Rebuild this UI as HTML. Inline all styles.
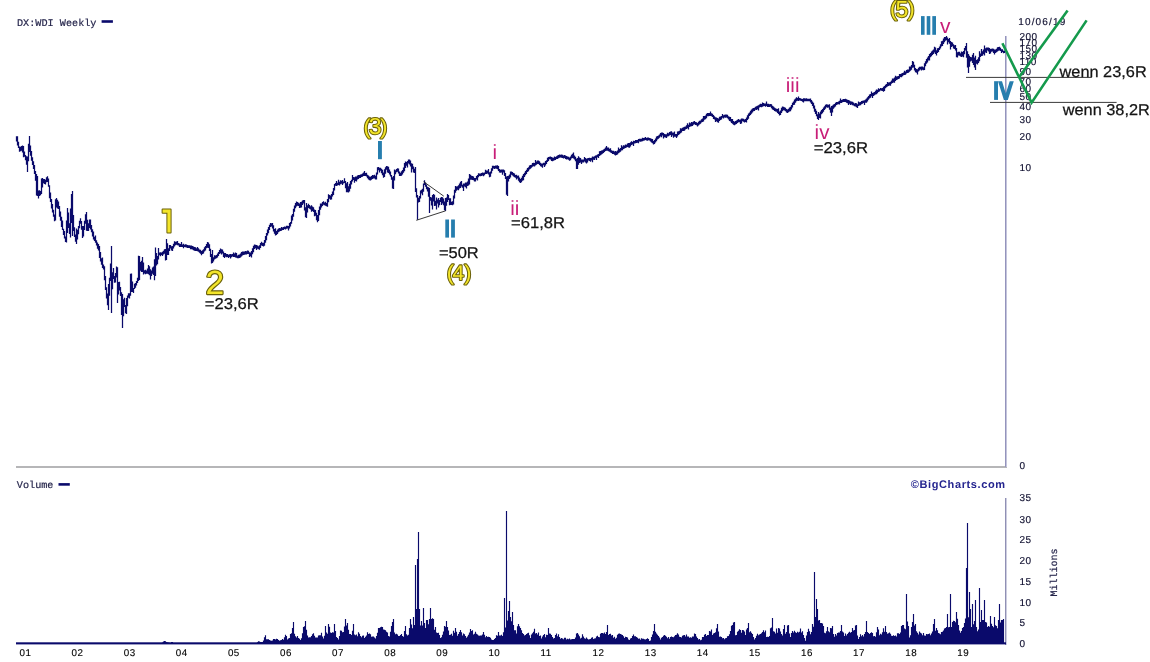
<!DOCTYPE html>
<html><head><meta charset="utf-8"><title>DX:WDI Weekly</title>
<style>
html,body{margin:0;padding:0;background:#fff;}
body{width:1150px;height:662px;overflow:hidden;font-family:"Liberation Sans",sans-serif;}
svg{display:block;}
text{font-family:"Liberation Sans",sans-serif;text-rendering:geometricPrecision;}
.mono{font-family:"Liberation Mono",monospace;font-size:10.2px;fill:#26264c;stroke:#26264c;stroke-width:0.2px;}
.ax{font-size:10px;fill:#101030;stroke:#101030;stroke-width:0.15px;letter-spacing:0.45px;}
.xl{font-size:9.8px;fill:#000;stroke:#000;stroke-width:0.12px;letter-spacing:0.5px;}
.note{font-size:15.7px;fill:#141414;stroke:#141414;stroke-width:0.25px;}
.yel{fill:#f3e52a;stroke:#6a6008;stroke-width:2.3px;paint-order:stroke fill;stroke-linejoin:round;}
.ys{stroke-width:2.1px;}
.pink{fill:#c81e78;}
.teal{fill:#267eae;}
</style></head>
<body>
<svg width="1150" height="662" viewBox="0 0 1150 662">
<defs><filter id="gs" x="0" y="0" width="1150" height="662" filterUnits="userSpaceOnUse"><feOffset dx="0" dy="0"/></filter></defs>
<rect width="1150" height="662" fill="#ffffff"/>
<g filter="url(#gs)">

<!-- frames -->
<g id="frames" shape-rendering="crispEdges">
<rect x="16" y="466" width="991" height="2" fill="#b6b6b8"/>
<rect x="1005" y="36" width="1" height="431" fill="#9494bc"/><rect x="1006" y="36" width="1" height="431" fill="#c4c4dc"/>
<rect x="1005" y="498" width="1" height="147" fill="#9090b4"/><rect x="1006" y="498" width="1" height="147" fill="#cdcde0"/>
</g>
<rect x="16" y="642.3" width="990" height="2.1" fill="#0a0a6b"/>

<!-- price bars -->
<path id="price" d="M16.5 136.2V141.6M17.5 136.3V145.6M18.5 141.8V148.0M19.5 146.4V151.7M20.5 146.8V151.2M21.5 146.0V150.7M22.5 145.6V152.4M23.5 145.9V157.2M24.5 151.5V156.7M25.5 155.0V160.3M26.5 156.2V164.8M27.5 156.4V172.0M28.5 143.8V161.3M29.5 135.9V152.0M30.5 145.6V155.8M31.5 151.0V160.8M32.5 157.2V165.0M33.5 161.3V169.0M34.5 165.0V173.9M35.5 171.0V180.8M36.5 174.1V195.4M37.5 176.0V196.1M38.5 190.6V198.4M39.5 190.3V195.9M40.5 191.0V195.3M41.5 178.4V194.0M42.5 177.9V187.5M43.5 179.1V183.2M44.5 179.0V184.1M45.5 179.8V184.5M46.5 177.3V182.3M47.5 176.3V181.9M48.5 178.4V186.7M49.5 185.2V198.3M50.5 192.5V202.1M51.5 199.0V208.4M52.5 204.1V212.4M53.5 209.7V216.8M54.5 214.4V221.3M55.5 199.3V220.5M56.5 198.1V207.4M57.5 199.7V208.4M58.5 201.6V209.1M59.5 206.1V216.8M60.5 211.6V220.8M61.5 216.7V227.0M62.5 220.6V230.1M63.5 228.7V235.0M64.5 231.1V238.5M65.5 236.4V242.1M66.5 220.4V242.5M67.5 208.0V233.0M68.5 212.5V228.0M69.5 223.2V234.1M70.5 208.4V237.4M71.5 194.1V223.1M72.5 190.9V236.0M73.5 215.0V231.1M74.5 227.3V237.1M75.5 234.4V241.8M76.5 228.4V244.0M77.5 229.7V239.6M78.5 225.9V234.3M79.5 220.7V228.2M80.5 218.2V223.7M81.5 221.0V229.8M82.5 225.9V238.0M83.5 226.0V236.6M84.5 220.8V229.9M85.5 214.2V223.7M86.5 212.0V230.8M87.5 219.8V230.9M88.5 223.3V230.9M89.5 219.5V228.0M90.5 219.5V229.6M91.5 224.9V232.3M92.5 229.3V236.5M93.5 231.6V239.6M94.5 236.8V241.0M95.5 235.4V242.8M96.5 240.2V245.6M97.5 242.5V248.7M98.5 243.9V250.4M99.5 246.1V257.9M100.5 251.9V261.5M101.5 258.3V264.8M102.5 257.6V267.9M103.5 264.5V269.6M104.5 266.2V280.3M105.5 276.1V290.1M106.5 287.3V298.4M107.5 293.6V305.3M108.5 284.0V309.9M109.5 277.7V295.7M110.5 263.4V280.9M111.5 246.0V313.0M112.5 272.2V289.3M113.5 267.9V279.0M114.5 275.9V282.8M115.5 273.1V282.6M116.5 266.5V277.4M117.5 267.2V303.0M118.5 281.9V294.6M119.5 281.8V290.5M120.5 287.1V296.0M121.5 292.2V315.1M122.5 294.0V328.0M123.5 299.2V316.3M124.5 297.8V307.1M125.5 305.1V313.3M126.5 298.0V314.0M127.5 295.5V306.2M128.5 293.3V297.8M129.5 293.3V298.6M130.5 273.7V295.7M131.5 273.6V292.0M132.5 281.4V292.0M133.5 288.1V293.0M134.5 283.8V288.9M135.5 282.9V287.8M136.5 281.0V285.4M137.5 277.7V282.9M138.5 255.8V281.1M139.5 256.0V280.0M140.5 262.1V270.7M141.5 260.8V271.9M142.5 257.0V272.0M143.5 262.4V274.4M144.5 270.2V273.4M145.5 269.7V274.3M146.5 270.6V273.7M147.5 268.4V273.7M148.5 264.9V274.2M149.5 266.2V275.2M150.5 269.2V279.6M151.5 270.6V276.1M152.5 267.6V273.7M153.5 266.5V275.1M154.5 259.2V280.3M155.5 247.4V276.0M156.5 253.0V265.4M157.5 256.1V264.3M158.5 248.1V259.6M159.5 252.4V255.3M160.5 252.3V256.3M161.5 252.6V255.1M162.5 251.8V255.9M163.5 250.8V254.5M164.5 249.3V253.7M165.5 249.1V260.4M166.5 239.0V260.0M167.5 243.2V255.1M168.5 248.2V254.9M169.5 245.1V250.9M170.5 244.9V248.6M171.5 246.2V250.6M172.5 246.0V251.0M173.5 243.7V248.6M174.5 241.2V246.6M175.5 241.7V245.2M176.5 241.4V244.7M177.5 241.1V245.3M178.5 242.9V245.6M179.5 243.6V246.9M180.5 244.1V247.1M181.5 242.1V247.1M182.5 244.5V246.9M183.5 243.7V248.3M184.5 244.7V247.1M185.5 244.3V247.3M186.5 244.6V247.5M187.5 245.1V248.0M188.5 245.3V247.9M189.5 245.3V248.0M190.5 245.6V249.2M191.5 245.5V249.2M192.5 245.9V249.5M193.5 246.6V250.3M194.5 247.0V250.7M195.5 247.3V251.0M196.5 248.3V250.9M197.5 246.9V251.2M198.5 248.2V251.7M199.5 249.4V252.7M200.5 249.8V253.7M201.5 251.1V255.2M202.5 250.2V253.9M203.5 249.2V253.5M204.5 247.2V251.6M205.5 246.0V250.6M206.5 244.1V248.2M207.5 241.9V247.8M208.5 242.4V248.1M209.5 244.2V251.0M210.5 248.8V257.1M211.5 254.0V263.6M212.5 250.0V262.9M213.5 257.2V261.5M214.5 255.3V259.4M215.5 255.4V258.7M216.5 254.9V258.2M217.5 253.6V257.6M218.5 252.0V256.0M219.5 250.1V254.0M220.5 248.5V253.2M221.5 249.2V254.6M222.5 249.6V253.5M223.5 251.6V256.9M224.5 252.9V258.0M225.5 252.9V256.7M226.5 254.1V257.3M227.5 254.0V257.1M228.5 254.7V258.1M229.5 254.2V257.0M230.5 254.1V258.6M231.5 254.2V257.3M232.5 254.0V256.6M233.5 252.6V256.9M234.5 253.6V256.9M235.5 252.4V257.5M236.5 253.1V257.7M237.5 255.5V258.2M238.5 254.7V258.2M239.5 254.5V258.0M240.5 253.5V257.6M241.5 252.1V256.5M242.5 251.6V255.4M243.5 251.4V254.9M244.5 251.5V254.7M245.5 251.1V254.5M246.5 251.2V254.4M247.5 250.6V254.0M248.5 250.7V254.1M249.5 252.2V257.0M250.5 252.6V256.2M251.5 251.0V257.6M252.5 248.2V254.3M253.5 245.7V252.2M254.5 244.4V249.1M255.5 244.8V248.2M256.5 244.9V249.9M257.5 245.4V248.7M258.5 246.2V249.2M259.5 245.2V249.8M260.5 243.1V247.9M261.5 241.8V245.5M262.5 242.8V246.0M263.5 242.7V246.4M264.5 239.9V245.8M265.5 235.9V242.8M266.5 232.9V240.3M267.5 229.4V235.4M268.5 227.1V233.2M269.5 224.8V229.9M270.5 222.9V227.0M271.5 223.2V226.5M272.5 223.1V228.4M273.5 225.3V231.6M274.5 229.1V233.7M275.5 228.3V235.6M276.5 230.9V235.1M277.5 229.4V233.9M278.5 228.6V232.3M279.5 228.0V231.5M280.5 228.2V231.0M281.5 227.1V230.8M282.5 227.5V230.1M283.5 227.0V229.9M284.5 226.6V229.1M285.5 226.7V229.4M286.5 225.8V228.7M287.5 225.7V228.5M288.5 225.9V230.6M289.5 223.1V228.5M290.5 221.9V226.5M291.5 215.6V223.7M292.5 214.0V220.4M293.5 208.8V216.8M294.5 205.4V211.8M295.5 202.9V208.2M296.5 201.5V206.5M297.5 202.0V205.7M298.5 202.8V206.0M299.5 203.5V207.9M300.5 202.1V207.7M301.5 201.8V207.6M302.5 200.6V205.1M303.5 199.9V203.6M304.5 200.0V210.4M305.5 207.3V217.2M306.5 203.0V218.0M307.5 205.2V212.6M308.5 203.7V207.9M309.5 205.0V208.7M310.5 206.2V209.4M311.5 205.3V211.8M312.5 206.6V210.9M313.5 207.3V212.1M314.5 209.6V216.2M315.5 210.1V215.8M316.5 212.8V220.2M317.5 215.0V222.2M318.5 210.0V221.1M319.5 206.6V215.3M320.5 203.6V209.7M321.5 203.4V207.5M322.5 201.9V206.0M323.5 201.2V204.7M324.5 202.5V205.3M325.5 201.8V205.8M326.5 203.1V206.3M327.5 199.1V206.8M328.5 194.2V202.2M329.5 195.1V198.8M330.5 195.4V199.8M331.5 194.1V199.4M332.5 191.6V196.4M333.5 187.9V195.1M334.5 184.0V190.6M335.5 183.0V185.7M336.5 181.0V186.0M337.5 182.8V185.6M338.5 179.7V185.1M339.5 181.7V185.4M340.5 180.3V184.2M341.5 180.8V183.8M342.5 179.9V185.0M343.5 181.4V183.6M344.5 178.2V183.1M345.5 181.0V188.2M346.5 183.2V192.2M347.5 182.0V192.2M348.5 186.2V192.4M349.5 183.8V191.6M350.5 181.1V188.7M351.5 179.7V184.5M352.5 174.9V181.6M353.5 177.0V179.9M354.5 177.2V182.8M355.5 176.6V180.9M356.5 176.4V181.5M357.5 175.6V179.5M358.5 175.1V178.9M359.5 174.9V178.1M360.5 174.6V178.1M361.5 174.3V177.0M362.5 173.5V176.7M363.5 172.6V175.9M364.5 171.1V176.0M365.5 173.0V175.9M366.5 172.8V176.5M367.5 174.7V178.2M368.5 175.4V179.4M369.5 176.5V180.2M370.5 176.8V180.5M371.5 175.9V179.8M372.5 174.9V179.0M373.5 175.3V178.4M374.5 174.8V178.4M375.5 175.7V179.5M376.5 172.6V179.6M377.5 167.2V174.6M378.5 166.9V170.3M379.5 167.7V172.6M380.5 167.7V170.8M381.5 168.7V173.2M382.5 169.8V175.2M383.5 172.4V177.7M384.5 169.2V176.9M385.5 167.2V173.8M386.5 165.9V169.8M387.5 166.3V172.4M388.5 166.7V173.0M389.5 169.6V174.4M390.5 171.4V176.5M391.5 175.1V179.8M392.5 177.2V188.4M393.5 176.0V189.0M394.5 169.4V180.6M395.5 170.3V174.2M396.5 169.1V172.3M397.5 168.3V171.8M398.5 168.5V173.6M399.5 171.4V176.1M400.5 172.8V176.1M401.5 171.2V175.7M402.5 170.1V174.5M403.5 167.5V172.8M404.5 162.9V171.3M405.5 161.4V168.0M406.5 162.1V165.7M407.5 161.0V167.5M408.5 159.4V163.5M409.5 159.6V164.4M410.5 160.4V166.4M411.5 163.2V172.6M412.5 163.7V169.2M413.5 166.4V172.6M414.5 168.7V173.0M415.5 166.9V192.0M416.5 188.3V197.6M417.5 194.9V219.8M418.5 197.7V202.6M419.5 195.9V202.1M420.5 190.4V198.4M421.5 189.8V193.6M422.5 188.8V195.3M423.5 183.4V191.8M424.5 180.2V185.1M425.5 182.5V186.8M426.5 184.4V189.2M427.5 186.7V191.6M428.5 187.2V196.8M429.5 188.1V213.0M430.5 196.9V200.7M431.5 197.6V205.4M432.5 195.0V209.5M433.5 194.1V201.5M434.5 194.7V206.0M435.5 200.8V205.7M436.5 197.6V209.5M437.5 199.5V203.5M438.5 198.0V207.5M439.5 200.0V205.3M440.5 197.7V202.1M441.5 197.0V205.1M442.5 197.3V203.6M443.5 198.5V205.3M444.5 201.5V210.3M445.5 198.0V211.0M446.5 197.5V205.7M447.5 193.9V202.1M448.5 195.1V200.0M449.5 198.2V205.3M450.5 198.2V204.9M451.5 201.8V205.1M452.5 201.3V205.3M453.5 195.6V204.6M454.5 189.7V198.4M455.5 185.9V192.8M456.5 186.5V190.7M457.5 186.2V189.8M458.5 185.3V190.2M459.5 183.4V188.6M460.5 181.7V188.0M461.5 181.1V186.4M462.5 184.7V187.8M463.5 183.5V190.9M464.5 183.4V186.4M465.5 182.4V187.2M466.5 182.5V188.5M467.5 181.4V186.1M468.5 178.6V185.5M469.5 174.1V184.5M470.5 174.8V179.8M471.5 175.7V179.7M472.5 176.1V180.1M473.5 176.6V180.3M474.5 178.0V181.4M475.5 178.1V181.6M476.5 176.0V179.5M477.5 174.9V180.5M478.5 173.2V177.2M479.5 173.4V176.1M480.5 173.6V176.3M481.5 172.9V176.1M482.5 172.4V175.6M483.5 172.7V176.3M484.5 172.4V175.2M485.5 169.8V174.1M486.5 170.6V173.9M487.5 170.4V173.5M488.5 168.9V174.4M489.5 172.2V177.3M490.5 171.6V176.7M491.5 168.3V173.6M492.5 165.8V170.7M493.5 165.7V168.6M494.5 165.9V169.0M495.5 165.4V168.5M496.5 165.6V168.7M497.5 165.3V169.2M498.5 165.9V170.9M499.5 169.0V172.5M500.5 169.8V172.8M501.5 169.4V172.4M502.5 169.6V174.8M503.5 169.4V172.4M504.5 170.3V176.0M505.5 172.9V179.0M506.5 176.6V194.7M507.5 176.0V196.0M508.5 175.7V181.6M509.5 174.4V179.1M510.5 171.6V177.6M511.5 171.4V174.7M512.5 171.9V175.4M513.5 173.0V176.5M514.5 173.4V177.3M515.5 175.1V177.7M516.5 174.7V179.4M517.5 175.7V178.4M518.5 175.6V180.8M519.5 177.5V182.2M520.5 179.1V183.1M521.5 177.8V182.2M522.5 175.8V180.8M523.5 174.1V180.2M524.5 172.8V177.0M525.5 171.1V175.2M526.5 169.7V174.0M527.5 167.9V172.0M528.5 167.2V171.2M529.5 165.6V169.5M530.5 165.0V168.7M531.5 164.7V167.8M532.5 163.0V166.8M533.5 162.7V166.3M534.5 162.9V166.4M535.5 160.0V165.6M536.5 161.6V164.8M537.5 160.6V164.0M538.5 160.5V164.0M539.5 161.2V165.0M540.5 162.8V166.2M541.5 163.6V166.8M542.5 163.4V167.8M543.5 162.8V165.2M544.5 162.8V167.0M545.5 160.9V165.4M546.5 160.2V164.0M547.5 157.8V162.1M548.5 157.0V160.9M549.5 156.8V159.2M550.5 156.6V159.6M551.5 157.0V161.0M552.5 157.4V161.2M553.5 157.8V160.8M554.5 156.6V160.3M555.5 156.9V160.0M556.5 156.2V159.1M557.5 155.4V158.9M558.5 155.1V158.3M559.5 154.4V157.8M560.5 154.8V157.5M561.5 154.5V157.7M562.5 154.8V158.1M563.5 155.4V158.4M564.5 155.1V157.9M565.5 155.4V158.9M566.5 156.1V159.4M567.5 156.5V159.3M568.5 156.7V159.7M569.5 157.4V160.8M570.5 156.6V160.2M571.5 154.7V158.6M572.5 153.8V158.0M573.5 152.4V158.6M574.5 155.4V159.6M575.5 156.7V161.3M576.5 158.8V169.0M577.5 158.0V169.0M578.5 156.3V164.8M579.5 157.5V163.0M580.5 158.1V162.6M581.5 159.4V163.9M582.5 159.4V162.6M583.5 159.4V162.6M584.5 157.0V161.6M585.5 158.0V162.4M586.5 158.7V163.4M587.5 158.3V162.6M588.5 158.1V160.6M589.5 157.7V160.9M590.5 158.0V161.7M591.5 157.7V160.6M592.5 156.6V162.2M593.5 156.7V159.8M594.5 156.2V159.9M595.5 155.4V158.2M596.5 155.3V160.1M597.5 154.4V157.2M598.5 154.0V157.9M599.5 151.3V155.9M600.5 151.1V155.2M601.5 150.6V154.4M602.5 150.3V153.8M603.5 149.6V152.9M604.5 148.7V152.0M605.5 147.6V151.0M606.5 145.9V150.7M607.5 147.6V150.8M608.5 147.4V151.3M609.5 148.7V151.8M610.5 148.3V152.6M611.5 150.3V153.1M612.5 150.7V153.9M613.5 150.8V153.9M614.5 151.6V154.7M615.5 151.1V155.5M616.5 151.5V155.0M617.5 150.4V154.5M618.5 147.5V153.2M619.5 149.0V152.6M620.5 148.1V151.8M621.5 145.3V150.4M622.5 146.5V150.3M623.5 145.3V149.1M624.5 145.6V148.5M625.5 144.5V148.0M626.5 144.8V147.5M627.5 143.5V146.9M628.5 143.1V147.4M629.5 143.1V147.7M630.5 142.3V146.4M631.5 141.2V144.9M632.5 141.9V144.6M633.5 140.8V146.1M634.5 140.9V143.4M635.5 140.1V143.3M636.5 139.9V143.1M637.5 140.1V142.7M638.5 139.0V143.2M639.5 138.7V141.6M640.5 138.7V141.7M641.5 138.7V141.6M642.5 137.7V141.2M643.5 138.0V140.7M644.5 137.8V140.6M645.5 137.1V140.1M646.5 137.9V140.5M647.5 137.5V140.7M648.5 137.6V140.3M649.5 138.1V140.4M650.5 138.2V141.4M651.5 138.7V142.4M652.5 139.1V143.3M653.5 141.1V144.4M654.5 139.9V143.9M655.5 138.6V142.6M656.5 136.5V141.3M657.5 136.1V139.5M658.5 135.4V138.7M659.5 134.6V137.8M660.5 133.0V136.5M661.5 132.6V137.2M662.5 132.5V135.5M663.5 133.0V138.4M664.5 133.9V137.2M665.5 134.3V137.6M666.5 134.3V137.9M667.5 132.8V136.6M668.5 133.2V136.3M669.5 132.0V135.6M670.5 131.6V135.0M671.5 131.2V136.9M672.5 132.6V135.5M673.5 132.4V137.8M674.5 131.6V136.8M675.5 133.9V136.7M676.5 134.0V137.9M677.5 131.6V136.6M678.5 131.3V135.1M679.5 130.8V134.2M680.5 128.3V133.3M681.5 128.5V132.6M682.5 127.7V130.9M683.5 127.3V131.1M684.5 126.8V130.7M685.5 126.6V129.5M686.5 125.3V128.9M687.5 123.2V128.3M688.5 124.8V129.4M689.5 122.6V127.0M690.5 123.3V126.5M691.5 122.0V126.3M692.5 122.2V125.9M693.5 121.6V124.7M694.5 121.1V124.3M695.5 122.0V124.9M696.5 122.3V125.2M697.5 122.9V126.6M698.5 121.7V125.5M699.5 120.7V124.4M700.5 120.4V123.7M701.5 119.3V122.5M702.5 118.4V122.1M703.5 116.1V121.6M704.5 116.0V119.7M705.5 115.4V119.2M706.5 113.8V118.2M707.5 113.0V116.2M708.5 113.0V116.2M709.5 112.9V115.9M710.5 111.6V116.0M711.5 113.2V116.3M712.5 113.8V117.1M713.5 115.1V119.1M714.5 116.3V119.6M715.5 117.2V121.9M716.5 117.6V121.2M717.5 118.0V122.3M718.5 118.5V122.7M719.5 116.8V120.9M720.5 116.4V119.9M721.5 115.9V119.4M722.5 114.1V117.8M723.5 115.3V118.6M724.5 114.8V117.6M725.5 114.5V117.7M726.5 114.6V117.6M727.5 114.8V118.2M728.5 116.3V119.6M729.5 116.8V120.9M730.5 117.1V121.4M731.5 118.9V123.0M732.5 119.1V123.8M733.5 121.0V124.8M734.5 121.8V125.2M735.5 121.0V124.4M736.5 120.5V123.9M737.5 119.7V123.0M738.5 118.9V122.3M739.5 119.7V122.3M740.5 119.5V123.9M741.5 118.4V123.4M742.5 118.6V121.2M743.5 118.7V121.7M744.5 119.5V122.5M745.5 118.9V121.9M746.5 117.6V122.5M747.5 115.3V120.0M748.5 113.5V118.7M749.5 112.6V116.1M750.5 110.7V115.0M751.5 109.5V113.8M752.5 108.5V112.6M753.5 108.0V111.3M754.5 107.8V111.1M755.5 106.7V109.7M756.5 106.3V110.1M757.5 105.7V109.3M758.5 105.3V110.6M759.5 104.6V107.5M760.5 103.7V106.9M761.5 103.9V107.2M762.5 102.5V106.8M763.5 103.0V106.2M764.5 103.6V106.0M765.5 103.6V106.8M766.5 101.5V106.1M767.5 103.8V107.0M768.5 103.7V107.1M769.5 104.2V107.0M770.5 104.1V106.7M771.5 104.3V108.2M772.5 105.8V109.5M773.5 106.6V110.0M774.5 107.6V111.1M775.5 108.2V111.6M776.5 108.7V111.8M777.5 109.0V112.9M778.5 108.3V114.0M779.5 111.4V115.4M780.5 110.6V115.0M781.5 107.7V113.0M782.5 106.5V111.2M783.5 106.8V110.2M784.5 107.2V110.6M785.5 107.8V111.2M786.5 109.1V112.6M787.5 109.5V113.0M788.5 108.8V112.3M789.5 107.4V111.5M790.5 106.8V111.3M791.5 104.9V109.5M792.5 102.7V107.6M793.5 101.5V105.1M794.5 99.6V104.7M795.5 98.6V102.7M796.5 97.3V101.2M797.5 97.9V100.8M798.5 96.5V101.1M799.5 98.0V100.5M800.5 98.2V100.7M801.5 98.8V101.1M802.5 99.0V101.7M803.5 98.2V102.5M804.5 98.2V101.3M805.5 98.6V101.2M806.5 98.3V101.3M807.5 98.7V101.2M808.5 98.7V101.2M809.5 98.7V101.2M810.5 98.6V102.6M811.5 100.0V103.9M812.5 101.6V105.9M813.5 102.7V108.6M814.5 105.6V111.8M815.5 108.8V114.0M816.5 110.8V116.2M817.5 114.2V118.9M818.5 112.0V120.0M819.5 113.4V118.1M820.5 111.6V118.4M821.5 109.9V114.3M822.5 109.0V113.3M823.5 107.4V111.7M824.5 106.2V110.0M825.5 104.7V108.8M826.5 104.2V107.2M827.5 104.6V107.8M828.5 104.7V107.4M829.5 104.3V109.8M830.5 107.6V112.8M831.5 106.0V116.0M832.5 105.6V112.6M833.5 104.5V108.7M834.5 104.1V107.4M835.5 102.7V106.6M836.5 102.1V105.1M837.5 101.9V104.6M838.5 101.5V104.3M839.5 100.8V104.4M840.5 98.4V102.9M841.5 100.0V103.0M842.5 99.6V102.3M843.5 99.1V102.0M844.5 98.9V101.9M845.5 98.8V101.9M846.5 99.2V102.7M847.5 99.7V103.3M848.5 99.9V105.1M849.5 100.5V103.7M850.5 101.2V104.9M851.5 101.4V104.5M852.5 101.7V105.3M853.5 102.5V105.5M854.5 103.6V106.3M855.5 103.1V106.6M856.5 103.3V107.2M857.5 104.3V107.9M858.5 101.4V106.0M859.5 102.2V105.4M860.5 101.9V105.2M861.5 101.0V104.2M862.5 100.8V103.7M863.5 100.5V103.1M864.5 100.2V105.0M865.5 99.6V102.7M866.5 98.6V102.8M867.5 97.2V101.4M868.5 95.9V99.7M869.5 94.6V98.6M870.5 94.1V97.8M871.5 91.5V96.2M872.5 93.1V98.0M873.5 92.5V96.0M874.5 91.9V95.2M875.5 90.8V94.6M876.5 89.4V94.2M877.5 89.8V93.3M878.5 88.3V92.1M879.5 89.1V91.6M880.5 87.9V90.5M881.5 88.2V90.8M882.5 88.1V91.0M883.5 86.7V91.8M884.5 85.9V91.1M885.5 84.8V88.3M886.5 84.0V87.2M887.5 82.0V86.4M888.5 82.6V86.1M889.5 82.2V85.4M890.5 81.8V85.8M891.5 80.5V83.7M892.5 78.6V82.9M893.5 78.4V82.6M894.5 77.6V82.8M895.5 75.8V81.0M896.5 76.4V80.1M897.5 76.3V79.4M898.5 75.9V79.0M899.5 74.0V78.5M900.5 73.9V77.0M901.5 73.4V77.2M902.5 73.0V76.2M903.5 72.5V75.3M904.5 70.8V74.9M905.5 71.6V74.7M906.5 70.1V73.5M907.5 69.5V72.9M908.5 69.5V72.8M909.5 66.5V71.8M910.5 66.4V70.8M911.5 64.9V69.7M912.5 61.1V67.7M913.5 61.8V67.4M914.5 64.8V70.6M915.5 67.9V72.2M916.5 68.9V72.7M917.5 69.2V74.4M918.5 67.8V71.5M919.5 66.7V70.4M920.5 66.7V69.6M921.5 66.4V70.6M922.5 66.5V69.8M923.5 67.3V70.3M924.5 63.3V70.0M925.5 61.3V66.2M926.5 59.1V63.7M927.5 57.5V62.5M928.5 56.0V60.4M929.5 54.1V60.6M930.5 52.9V57.3M931.5 51.6V56.2M932.5 50.4V55.1M933.5 49.5V54.0M934.5 46.7V52.5M935.5 47.4V54.0M936.5 50.3V55.4M937.5 48.3V52.9M938.5 47.9V52.0M939.5 46.4V50.0M940.5 44.3V48.4M941.5 41.3V46.6M942.5 40.7V46.1M943.5 38.5V43.9M944.5 37.1V42.2M945.5 37.0V40.7M946.5 36.1V40.2M947.5 37.4V44.5M948.5 39.1V42.2M949.5 37.9V43.7M950.5 41.0V49.5M951.5 41.9V46.9M952.5 42.5V46.3M953.5 44.2V48.4M954.5 45.3V49.0M955.5 44.9V50.6M956.5 47.9V57.2M957.5 52.3V57.5M958.5 51.7V55.4M959.5 51.7V55.7M960.5 53.2V56.4M961.5 51.5V56.9M962.5 52.1V56.6M963.5 51.1V57.3M964.5 47.9V54.3M965.5 46.0V50.6M966.5 43.1V57.7M967.5 51.3V67.6M968.5 54.0V73.0M969.5 55.8V66.7M970.5 56.9V61.4M971.5 57.3V60.7M972.5 54.8V63.0M973.5 53.0V64.9M974.5 57.6V67.6M975.5 55.8V69.9M976.5 59.9V63.7M977.5 59.3V64.5M978.5 57.3V63.1M979.5 51.3V61.2M980.5 53.5V57.1M981.5 49.1V56.0M982.5 51.2V55.7M983.5 49.5V54.2M984.5 45.4V55.4M985.5 48.2V52.4M986.5 47.5V53.1M987.5 47.5V50.6M988.5 47.5V51.5M989.5 48.0V53.9M990.5 49.0V53.5M991.5 48.7V51.8M992.5 48.6V51.5M993.5 48.8V52.9M994.5 49.5V54.4M995.5 49.4V53.0M996.5 48.7V52.3M997.5 47.2V51.4M998.5 46.9V50.7M999.5 46.8V50.5M1000.5 47.7V50.9M1001.5 49.2V52.9M1002.5 49.3V52.1M1003.5 50.7V53.2M1004.5 50.6V53.1" stroke="#0a0a6b" stroke-width="1.25" fill="none"/>
<!-- volume bars -->
<path id="vol" d="M162.5 643.0V642.5M163.5 643.0V641.5M164.5 643.0V640.9M165.5 643.0V641.2M166.5 643.0V642.1M167.5 643.0V642.3M168.5 643.0V642.5M169.5 643.0V642.7M171.5 643.0V642.0M172.5 643.0V642.0M257.5 643.0V642.2M258.5 643.0V641.2M259.5 643.0V641.4M260.5 643.0V642.0M261.5 643.0V642.0M262.5 643.0V642.0M263.5 643.0V640.4M264.5 643.0V637.3M265.5 643.0V635.2M266.5 643.0V639.3M267.5 643.0V639.2M268.5 643.0V639.2M269.5 643.0V640.1M270.5 643.0V640.4M271.5 643.0V640.7M272.5 643.0V640.6M273.5 643.0V639.1M274.5 643.0V638.9M275.5 643.0V639.6M276.5 643.0V638.8M277.5 643.0V639.0M278.5 643.0V639.9M279.5 643.0V640.7M280.5 643.0V640.3M281.5 643.0V640.1M282.5 643.0V639.0M283.5 643.0V639.7M284.5 643.0V637.3M285.5 643.0V634.7M286.5 643.0V635.9M287.5 643.0V639.6M288.5 643.0V638.6M289.5 643.0V638.0M290.5 643.0V633.9M291.5 643.0V633.2M292.5 643.0V628.0M293.5 643.0V622.0M294.5 643.0V633.7M295.5 643.0V636.3M296.5 643.0V637.6M297.5 643.0V635.9M298.5 643.0V638.0M299.5 643.0V638.7M300.5 643.0V640.1M301.5 643.0V638.2M302.5 643.0V633.2M303.5 643.0V627.0M304.5 643.0V626.2M305.5 643.0V621.0M306.5 643.0V629.7M307.5 643.0V635.5M308.5 643.0V637.6M309.5 643.0V637.2M310.5 643.0V637.3M311.5 643.0V636.0M312.5 643.0V634.2M313.5 643.0V633.2M314.5 643.0V635.7M315.5 643.0V637.6M316.5 643.0V637.6M317.5 643.0V637.5M318.5 643.0V635.5M319.5 643.0V635.3M320.5 643.0V635.3M321.5 643.0V632.7M322.5 643.0V636.6M323.5 643.0V638.4M324.5 643.0V635.8M325.5 643.0V626.0M326.5 643.0V632.5M327.5 643.0V633.7M328.5 643.0V624.0M329.5 643.0V626.8M330.5 643.0V632.5M331.5 643.0V633.0M332.5 643.0V632.3M333.5 643.0V632.6M334.5 643.0V624.0M335.5 643.0V631.1M336.5 643.0V636.9M337.5 643.0V637.9M338.5 643.0V639.5M339.5 643.0V636.1M340.5 643.0V630.6M341.5 643.0V630.7M342.5 643.0V632.2M343.5 643.0V631.9M344.5 643.0V626.4M345.5 643.0V619.0M346.5 643.0V625.6M347.5 643.0V623.0M348.5 643.0V629.7M349.5 643.0V634.1M350.5 643.0V634.1M351.5 643.0V635.0M352.5 643.0V630.7M353.5 643.0V624.0M354.5 643.0V634.6M355.5 643.0V635.3M356.5 643.0V634.5M357.5 643.0V636.2M358.5 643.0V632.3M359.5 643.0V633.7M360.5 643.0V636.0M361.5 643.0V637.3M362.5 643.0V635.8M363.5 643.0V635.6M364.5 643.0V638.1M365.5 643.0V636.8M366.5 643.0V635.4M367.5 643.0V632.3M368.5 643.0V633.9M369.5 643.0V633.6M370.5 643.0V634.3M371.5 643.0V636.8M372.5 643.0V636.5M373.5 643.0V636.5M374.5 643.0V637.6M375.5 643.0V638.5M376.5 643.0V636.0M377.5 643.0V632.8M378.5 643.0V628.0M379.5 643.0V628.1M380.5 643.0V627.3M381.5 643.0V626.7M382.5 643.0V627.0M383.5 643.0V629.5M384.5 643.0V629.8M385.5 643.0V630.2M386.5 643.0V631.7M387.5 643.0V632.5M388.5 643.0V636.1M389.5 643.0V636.5M390.5 643.0V631.7M391.5 643.0V626.0M392.5 643.0V622.1M393.5 643.0V619.0M394.5 643.0V632.5M395.5 643.0V634.2M396.5 643.0V633.7M397.5 643.0V634.6M398.5 643.0V636.1M399.5 643.0V636.1M400.5 643.0V635.0M401.5 643.0V634.0M402.5 643.0V635.9M403.5 643.0V636.8M404.5 643.0V631.1M405.5 643.0V626.0M406.5 643.0V634.2M407.5 643.0V635.5M408.5 643.0V634.7M409.5 643.0V628.1M410.5 643.0V619.0M411.5 643.0V624.5M412.5 643.0V628.3M413.5 643.0V617.0M414.5 643.0V625.0M415.5 643.0V565.0M416.5 643.0V609.0M417.5 643.0V559.0M418.5 643.0V532.0M419.5 643.0V609.0M420.5 643.0V625.4M421.5 643.0V621.0M422.5 643.0V625.5M423.5 643.0V608.0M424.5 643.0V623.0M425.5 643.0V628.0M426.5 643.0V620.1M427.5 643.0V620.0M428.5 643.0V624.3M429.5 643.0V619.1M430.5 643.0V608.0M431.5 643.0V619.0M432.5 643.0V618.2M433.5 643.0V619.0M434.5 643.0V629.8M435.5 643.0V627.0M436.5 643.0V632.5M437.5 643.0V633.1M438.5 643.0V632.8M439.5 643.0V634.9M440.5 643.0V638.0M441.5 643.0V637.2M442.5 643.0V634.8M443.5 643.0V631.6M444.5 643.0V626.1M445.5 643.0V626.7M446.5 643.0V621.0M447.5 643.0V627.1M448.5 643.0V630.5M449.5 643.0V634.9M450.5 643.0V634.7M451.5 643.0V633.7M452.5 643.0V635.7M453.5 643.0V630.7M454.5 643.0V632.7M455.5 643.0V628.0M456.5 643.0V631.7M457.5 643.0V635.7M458.5 643.0V633.9M459.5 643.0V632.1M460.5 643.0V630.0M461.5 643.0V632.2M462.5 643.0V635.4M463.5 643.0V633.6M464.5 643.0V634.2M465.5 643.0V635.9M466.5 643.0V637.8M467.5 643.0V636.4M468.5 643.0V634.8M469.5 643.0V632.5M470.5 643.0V628.9M471.5 643.0V631.1M472.5 643.0V630.3M473.5 643.0V634.4M474.5 643.0V633.8M475.5 643.0V631.8M476.5 643.0V633.8M477.5 643.0V634.5M478.5 643.0V635.5M479.5 643.0V635.7M480.5 643.0V635.6M481.5 643.0V635.6M482.5 643.0V634.4M483.5 643.0V631.9M484.5 643.0V634.7M485.5 643.0V637.3M486.5 643.0V636.1M487.5 643.0V637.1M488.5 643.0V636.7M489.5 643.0V637.0M490.5 643.0V637.8M491.5 643.0V639.4M492.5 643.0V640.0M493.5 643.0V639.9M494.5 643.0V639.1M495.5 643.0V638.1M496.5 643.0V635.3M497.5 643.0V635.8M498.5 643.0V632.0M499.5 643.0V635.6M500.5 643.0V635.6M501.5 643.0V634.7M502.5 643.0V636.1M503.5 643.0V632.3M504.5 643.0V598.0M505.5 643.0V627.6M506.5 643.0V511.0M507.5 643.0V620.6M508.5 643.0V611.0M509.5 643.0V601.0M510.5 643.0V617.0M511.5 643.0V621.2M512.5 643.0V612.0M513.5 643.0V625.0M514.5 643.0V630.3M515.5 643.0V630.2M516.5 643.0V633.4M517.5 643.0V626.3M518.5 643.0V624.0M519.5 643.0V626.2M520.5 643.0V628.0M521.5 643.0V630.2M522.5 643.0V633.0M523.5 643.0V634.0M524.5 643.0V635.5M525.5 643.0V635.1M526.5 643.0V634.0M527.5 643.0V633.3M528.5 643.0V632.8M529.5 643.0V635.3M530.5 643.0V638.1M531.5 643.0V634.4M532.5 643.0V633.3M533.5 643.0V631.8M534.5 643.0V628.7M535.5 643.0V633.6M536.5 643.0V633.1M537.5 643.0V634.6M538.5 643.0V632.6M539.5 643.0V635.9M540.5 643.0V635.5M541.5 643.0V638.4M542.5 643.0V636.6M543.5 643.0V635.1M544.5 643.0V633.9M545.5 643.0V637.2M546.5 643.0V634.7M547.5 643.0V635.1M548.5 643.0V628.0M549.5 643.0V633.6M550.5 643.0V633.8M551.5 643.0V635.0M552.5 643.0V637.0M553.5 643.0V638.4M554.5 643.0V638.0M555.5 643.0V634.9M556.5 643.0V633.6M557.5 643.0V636.2M558.5 643.0V634.3M559.5 643.0V636.9M560.5 643.0V638.8M561.5 643.0V637.9M562.5 643.0V638.5M563.5 643.0V639.2M564.5 643.0V637.7M565.5 643.0V637.7M566.5 643.0V639.4M567.5 643.0V638.8M568.5 643.0V639.2M569.5 643.0V638.5M570.5 643.0V639.6M571.5 643.0V639.2M572.5 643.0V639.1M573.5 643.0V639.0M574.5 643.0V639.0M575.5 643.0V637.4M576.5 643.0V633.6M577.5 643.0V632.9M578.5 643.0V634.6M579.5 643.0V636.2M580.5 643.0V638.6M581.5 643.0V637.7M582.5 643.0V634.3M583.5 643.0V636.4M584.5 643.0V638.2M585.5 643.0V638.8M586.5 643.0V637.4M587.5 643.0V638.8M588.5 643.0V639.5M589.5 643.0V639.3M590.5 643.0V639.0M591.5 643.0V637.7M592.5 643.0V637.3M593.5 643.0V639.0M594.5 643.0V638.4M595.5 643.0V638.3M596.5 643.0V636.6M597.5 643.0V635.7M598.5 643.0V637.1M599.5 643.0V637.2M600.5 643.0V633.7M601.5 643.0V632.9M602.5 643.0V633.1M603.5 643.0V633.5M604.5 643.0V632.6M605.5 643.0V634.1M606.5 643.0V631.9M607.5 643.0V625.0M608.5 643.0V634.9M609.5 643.0V634.1M610.5 643.0V633.8M611.5 643.0V635.4M612.5 643.0V634.9M613.5 643.0V637.7M614.5 643.0V636.7M615.5 643.0V638.7M616.5 643.0V637.8M617.5 643.0V634.7M618.5 643.0V633.7M619.5 643.0V633.4M620.5 643.0V634.0M621.5 643.0V634.4M622.5 643.0V634.9M623.5 643.0V636.2M624.5 643.0V638.1M625.5 643.0V636.7M626.5 643.0V637.0M627.5 643.0V637.5M628.5 643.0V639.6M629.5 643.0V639.9M630.5 643.0V638.5M631.5 643.0V638.0M632.5 643.0V636.0M633.5 643.0V634.6M634.5 643.0V636.2M635.5 643.0V636.2M636.5 643.0V637.0M637.5 643.0V637.7M638.5 643.0V638.8M639.5 643.0V638.4M640.5 643.0V639.7M641.5 643.0V638.2M642.5 643.0V638.7M643.5 643.0V638.8M644.5 643.0V639.3M645.5 643.0V639.6M646.5 643.0V638.9M647.5 643.0V638.2M648.5 643.0V639.0M649.5 643.0V640.9M650.5 643.0V640.4M651.5 643.0V636.9M652.5 643.0V634.6M653.5 643.0V631.1M654.5 643.0V624.0M655.5 643.0V631.7M656.5 643.0V633.6M657.5 643.0V634.8M658.5 643.0V635.9M659.5 643.0V637.4M660.5 643.0V639.6M661.5 643.0V637.7M662.5 643.0V637.1M663.5 643.0V635.7M664.5 643.0V634.9M665.5 643.0V635.8M666.5 643.0V636.7M667.5 643.0V638.3M668.5 643.0V637.1M669.5 643.0V638.7M670.5 643.0V637.1M671.5 643.0V636.5M672.5 643.0V637.1M673.5 643.0V637.3M674.5 643.0V636.3M675.5 643.0V635.1M676.5 643.0V634.7M677.5 643.0V633.2M678.5 643.0V634.4M679.5 643.0V636.8M680.5 643.0V637.0M681.5 643.0V637.6M682.5 643.0V635.7M683.5 643.0V635.2M684.5 643.0V635.0M685.5 643.0V636.4M686.5 643.0V634.6M687.5 643.0V636.6M688.5 643.0V636.5M689.5 643.0V637.7M690.5 643.0V637.3M691.5 643.0V637.8M692.5 643.0V636.6M693.5 643.0V636.5M694.5 643.0V633.6M695.5 643.0V634.1M696.5 643.0V636.4M697.5 643.0V637.9M698.5 643.0V639.5M699.5 643.0V638.9M700.5 643.0V640.2M701.5 643.0V639.7M702.5 643.0V637.1M703.5 643.0V637.1M704.5 643.0V634.7M705.5 643.0V633.9M706.5 643.0V635.9M707.5 643.0V634.9M708.5 643.0V635.0M709.5 643.0V631.1M710.5 643.0V631.4M711.5 643.0V629.5M712.5 643.0V635.1M713.5 643.0V633.5M714.5 643.0V632.9M715.5 643.0V632.2M716.5 643.0V628.3M717.5 643.0V624.0M718.5 643.0V631.4M719.5 643.0V636.7M720.5 643.0V636.6M721.5 643.0V637.0M722.5 643.0V638.2M723.5 643.0V638.1M724.5 643.0V639.2M725.5 643.0V638.3M726.5 643.0V638.1M727.5 643.0V636.3M728.5 643.0V636.0M729.5 643.0V634.2M730.5 643.0V631.1M731.5 643.0V625.8M732.5 643.0V625.0M733.5 643.0V622.5M734.5 643.0V622.0M735.5 643.0V635.3M736.5 643.0V635.1M737.5 643.0V631.7M738.5 643.0V630.7M739.5 643.0V629.3M740.5 643.0V629.9M741.5 643.0V632.8M742.5 643.0V630.1M743.5 643.0V630.2M744.5 643.0V631.6M745.5 643.0V634.9M746.5 643.0V629.6M747.5 643.0V628.1M748.5 643.0V623.0M749.5 643.0V632.3M750.5 643.0V631.2M751.5 643.0V632.8M752.5 643.0V634.0M753.5 643.0V637.0M754.5 643.0V639.6M755.5 643.0V637.9M756.5 643.0V635.7M757.5 643.0V633.7M758.5 643.0V635.3M759.5 643.0V634.4M760.5 643.0V634.1M761.5 643.0V633.2M762.5 643.0V632.0M763.5 643.0V630.2M764.5 643.0V632.3M765.5 643.0V630.4M766.5 643.0V637.1M767.5 643.0V636.7M768.5 643.0V637.1M769.5 643.0V636.1M770.5 643.0V628.2M771.5 643.0V627.6M772.5 643.0V618.0M773.5 643.0V631.2M774.5 643.0V631.8M775.5 643.0V633.6M776.5 643.0V628.5M777.5 643.0V632.8M778.5 643.0V628.0M779.5 643.0V628.4M780.5 643.0V631.4M781.5 643.0V633.9M782.5 643.0V635.4M783.5 643.0V628.9M784.5 643.0V625.0M785.5 643.0V633.8M786.5 643.0V631.9M787.5 643.0V625.6M788.5 643.0V625.0M789.5 643.0V633.4M790.5 643.0V637.0M791.5 643.0V633.0M792.5 643.0V631.1M793.5 643.0V632.4M794.5 643.0V630.7M795.5 643.0V632.3M796.5 643.0V633.1M797.5 643.0V631.8M798.5 643.0V632.5M799.5 643.0V631.8M800.5 643.0V628.5M801.5 643.0V632.4M802.5 643.0V631.2M803.5 643.0V634.9M804.5 643.0V638.0M805.5 643.0V640.7M806.5 643.0V635.5M807.5 643.0V631.9M808.5 643.0V628.7M809.5 643.0V631.2M810.5 643.0V634.2M811.5 643.0V631.9M812.5 643.0V624.0M813.5 643.0V626.8M814.5 643.0V572.0M815.5 643.0V617.0M816.5 643.0V599.0M817.5 643.0V609.0M818.5 643.0V620.6M819.5 643.0V620.0M820.5 643.0V623.1M821.5 643.0V623.0M822.5 643.0V623.5M823.5 643.0V626.0M824.5 643.0V632.7M825.5 643.0V633.2M826.5 643.0V631.3M827.5 643.0V627.0M828.5 643.0V631.2M829.5 643.0V632.2M830.5 643.0V628.0M831.5 643.0V628.3M832.5 643.0V626.0M833.5 643.0V634.1M834.5 643.0V636.7M835.5 643.0V634.1M836.5 643.0V635.6M837.5 643.0V632.9M838.5 643.0V632.5M839.5 643.0V632.6M840.5 643.0V631.1M841.5 643.0V625.0M842.5 643.0V631.5M843.5 643.0V632.4M844.5 643.0V636.0M845.5 643.0V633.5M846.5 643.0V635.6M847.5 643.0V634.0M848.5 643.0V632.8M849.5 643.0V631.7M850.5 643.0V632.8M851.5 643.0V632.1M852.5 643.0V628.0M853.5 643.0V630.6M854.5 643.0V630.0M855.5 643.0V625.6M856.5 643.0V625.0M857.5 643.0V635.4M858.5 643.0V638.9M859.5 643.0V637.1M860.5 643.0V634.2M861.5 643.0V636.2M862.5 643.0V635.0M863.5 643.0V636.5M864.5 643.0V634.1M865.5 643.0V632.0M866.5 643.0V621.0M867.5 643.0V631.9M868.5 643.0V632.9M869.5 643.0V633.9M870.5 643.0V633.0M871.5 643.0V632.3M872.5 643.0V632.9M873.5 643.0V636.3M874.5 643.0V635.9M875.5 643.0V636.7M876.5 643.0V632.2M877.5 643.0V627.0M878.5 643.0V629.5M879.5 643.0V635.2M880.5 643.0V633.7M881.5 643.0V634.4M882.5 643.0V632.2M883.5 643.0V628.2M884.5 643.0V631.7M885.5 643.0V626.0M886.5 643.0V632.0M887.5 643.0V633.8M888.5 643.0V633.3M889.5 643.0V632.6M890.5 643.0V633.8M891.5 643.0V635.8M892.5 643.0V636.0M893.5 643.0V635.2M894.5 643.0V636.1M895.5 643.0V635.4M896.5 643.0V636.6M897.5 643.0V633.2M898.5 643.0V633.3M899.5 643.0V634.1M900.5 643.0V632.6M901.5 643.0V626.1M902.5 643.0V624.9M903.5 643.0V625.0M904.5 643.0V628.6M905.5 643.0V629.2M906.5 643.0V594.0M907.5 643.0V621.5M908.5 643.0V626.0M909.5 643.0V637.4M910.5 643.0V635.2M911.5 643.0V627.0M912.5 643.0V621.9M913.5 643.0V614.0M914.5 643.0V625.5M915.5 643.0V624.0M916.5 643.0V631.2M917.5 643.0V632.8M918.5 643.0V634.4M919.5 643.0V631.5M920.5 643.0V632.7M921.5 643.0V633.4M922.5 643.0V635.2M923.5 643.0V633.1M924.5 643.0V635.4M925.5 643.0V635.7M926.5 643.0V634.1M927.5 643.0V634.3M928.5 643.0V634.0M929.5 643.0V633.5M930.5 643.0V635.2M931.5 643.0V633.6M932.5 643.0V631.6M933.5 643.0V624.0M934.5 643.0V619.0M935.5 643.0V630.7M936.5 643.0V628.0M937.5 643.0V630.2M938.5 643.0V633.1M939.5 643.0V633.4M940.5 643.0V634.2M941.5 643.0V631.9M942.5 643.0V631.7M943.5 643.0V630.4M944.5 643.0V628.5M945.5 643.0V628.0M946.5 643.0V626.9M947.5 643.0V614.0M948.5 643.0V627.2M949.5 643.0V627.0M950.5 643.0V594.0M951.5 643.0V627.0M952.5 643.0V622.0M953.5 643.0V620.8M954.5 643.0V621.0M955.5 643.0V622.3M956.5 643.0V612.0M957.5 643.0V618.7M958.5 643.0V625.0M959.5 643.0V630.5M960.5 643.0V632.7M961.5 643.0V631.1M962.5 643.0V628.1M963.5 643.0V627.0M964.5 643.0V623.0M965.5 643.0V618.5M966.5 643.0V568.0M967.5 643.0V523.0M968.5 643.0V617.3M969.5 643.0V592.0M970.5 643.0V609.0M971.5 643.0V626.9M972.5 643.0V604.0M973.5 643.0V624.3M974.5 643.0V621.0M975.5 643.0V600.0M976.5 643.0V627.0M977.5 643.0V631.3M978.5 643.0V629.5M979.5 643.0V588.0M980.5 643.0V622.0M981.5 643.0V610.0M982.5 643.0V620.0M983.5 643.0V620.0M984.5 643.0V600.0M985.5 643.0V622.0M986.5 643.0V622.4M987.5 643.0V627.0M988.5 643.0V626.1M989.5 643.0V626.8M990.5 643.0V616.0M991.5 643.0V623.7M992.5 643.0V626.0M993.5 643.0V627.2M994.5 643.0V617.0M995.5 643.0V625.2M996.5 643.0V626.0M997.5 643.0V628.3M998.5 643.0V620.0M999.5 643.0V604.0M1000.5 643.0V622.5M1001.5 643.0V620.0M1002.5 643.0V620.0M1003.5 643.0V619.0" stroke="#0a0a6b" stroke-width="1.15" fill="none"/>

<!-- triangle annotation -->
<g stroke="#222" stroke-width="0.9" fill="none">
<path d="M423.6 181.7L443.8 196.2"/>
<path d="M416.3 220.3L445.7 210.8"/>
</g>

<!-- horizontal retracement lines -->
<g stroke="#3a3a3a" stroke-width="1" fill="none">
<path d="M966 77.4H1091.8"/>
<path d="M990 102.4H1116.6"/>
</g>

<!-- header labels -->
<text class="mono" x="17" y="25.6">DX:WDI Weekly</text>
<rect x="101.6" y="20.2" width="11.3" height="2.6" fill="#0a0a6b"/>
<text class="mono" x="16.8" y="487.8">Volume</text>
<rect x="58.5" y="483.1" width="11.3" height="2.6" fill="#0a0a6b"/>
<text x="1005.6" y="487.8" text-anchor="end" font-size="11px" font-weight="bold" fill="#24248f" style="letter-spacing:0.6px">©BigCharts.com</text>

<!-- y axis price -->
<g class="ax">
<text x="1018.2" y="25" textLength="47.6" lengthAdjust="spacing">10/06/19</text>
<text x="1019.6" y="39.9">200</text>
<text x="1019.6" y="46.3">170</text>
<text x="1019.6" y="52.2">150</text>
<text x="1019.6" y="58.5">130</text>
<text x="1019.6" y="65.3">110</text>
<text x="1019.6" y="74.5">90</text>
<text x="1019.6" y="85.4">70</text>
<text x="1019.6" y="92.3">60</text>
<text x="1019.6" y="99.5">50</text>
<text x="1019.6" y="110.2">40</text>
<text x="1019.6" y="122.5">30</text>
<text x="1019.6" y="140.1">20</text>
<text x="1019.6" y="170.6">10</text>
<text x="1019.4" y="469.4">0</text>
</g>
<!-- y axis volume -->
<g class="ax">
<text x="1019.6" y="501.2">35</text>
<text x="1019.6" y="522.5">30</text>
<text x="1019.6" y="543">25</text>
<text x="1019.6" y="563.9">20</text>
<text x="1019.6" y="584.8">15</text>
<text x="1019.6" y="605.8">10</text>
<text x="1019.6" y="626.1">5</text>
<text x="1019.6" y="646.6">0</text>
</g>
<text class="mono" transform="translate(1057.4 596.6) rotate(-90)" style="font-size:10px">Millions</text>

<!-- x axis -->
<g class="xl">
<text x="19.5" y="655.6">01</text><text x="71.6" y="655.6">02</text><text x="123.7" y="655.6">03</text>
<text x="175.8" y="655.6">04</text><text x="227.9" y="655.6">05</text><text x="280" y="655.6">06</text>
<text x="332.1" y="655.6">07</text><text x="384.2" y="655.6">08</text><text x="436.3" y="655.6">09</text>
<text x="488.4" y="655.6">10</text><text x="540.5" y="655.6">11</text><text x="592.6" y="655.6">12</text>
<text x="644.7" y="655.6">13</text><text x="696.8" y="655.6">14</text><text x="748.9" y="655.6">15</text>
<text x="801" y="655.6">16</text><text x="853.1" y="655.6">17</text><text x="905.2" y="655.6">18</text>
<text x="957.3" y="655.6">19</text>
</g>

<!-- Elliott wave annotations -->
<path class="yel" d="M162.6 209.6H170.6V232.4H167.4V212.8H162.6Z" style="stroke-width:2px"/>
<text class="yel" x="205.6" y="293.8" font-size="33.5px">2</text>
<text class="note" x="204.8" y="308.6" textLength="54" lengthAdjust="spacingAndGlyphs">=23,6R</text>

<text class="yel ys" y="134"><tspan x="363.4" y="133.6" font-size="21.5px">(</tspan><tspan x="368.8" y="133.8" font-size="23px">3</tspan><tspan x="380.2" y="133.6" font-size="21.5px">)</tspan></text>
<rect class="teal" x="378" y="141" width="3.9" height="18.2"/>

<rect class="teal" x="445.3" y="219.5" width="3.7" height="18.1"/>
<rect class="teal" x="451.1" y="219.5" width="3.8" height="18.1"/>
<text class="note" x="438.9" y="258" textLength="39.9" lengthAdjust="spacingAndGlyphs">=50R</text>
<text class="yel ys"><tspan x="446.8" y="279.8" font-size="21.5px">(</tspan><tspan x="452.4" y="279.7" font-size="21.2px">4</tspan><tspan x="464.2" y="279.8" font-size="21.5px">)</tspan></text>

<text class="pink" x="492.4" y="159.4" font-size="20.5px">i</text>
<text class="pink" x="510.2" y="214.8" font-size="20.5px">ii</text>
<text class="note" x="511" y="228.2" textLength="54" lengthAdjust="spacingAndGlyphs">=61,8R</text>

<text class="pink" x="785.8" y="91.7" font-size="20.5px">iii</text>
<text class="pink" x="814.6" y="138.6" font-size="20.5px">iv</text>
<text class="note" x="813.7" y="153.2" textLength="54.4" lengthAdjust="spacingAndGlyphs">=23,6R</text>

<text class="yel ys"><tspan x="890" y="16.4" font-size="21.5px">(</tspan><tspan x="895.6" y="17" font-size="23.2px">5</tspan><tspan x="907.4" y="16.4" font-size="21.5px">)</tspan></text>
<rect class="teal" x="921" y="16.1" width="3.6" height="18.7"/>
<rect class="teal" x="926.7" y="16.1" width="3.6" height="18.7"/>
<rect class="teal" x="932.3" y="16.1" width="3.7" height="18.7"/>
<text class="pink" x="940" y="32.7" font-size="21px">v</text>

<rect class="teal" x="994.1" y="81.2" width="3.9" height="18.7"/>
<path class="teal" d="M998 81.2H1002L1005.8 93.6L1009.7 81.2H1013.8L1007.8 99.9H1003.9Z"/>

<text class="note" x="1059.5" y="76.7" textLength="87.2" lengthAdjust="spacingAndGlyphs">wenn 23,6R</text>
<text class="note" x="1062.7" y="114.7" textLength="87.2" lengthAdjust="spacingAndGlyphs">wenn 38,2R</text>

<!-- green projection lines -->
<g stroke="#149a4c" stroke-width="2.6" fill="none" stroke-linecap="butt">
<path d="M1002.4 43.2L1031.6 102.6L1086.6 20.4"/>
<path d="M1019.6 76.6L1067.6 10.6"/>
</g>
</g>
</svg>
</body></html>
